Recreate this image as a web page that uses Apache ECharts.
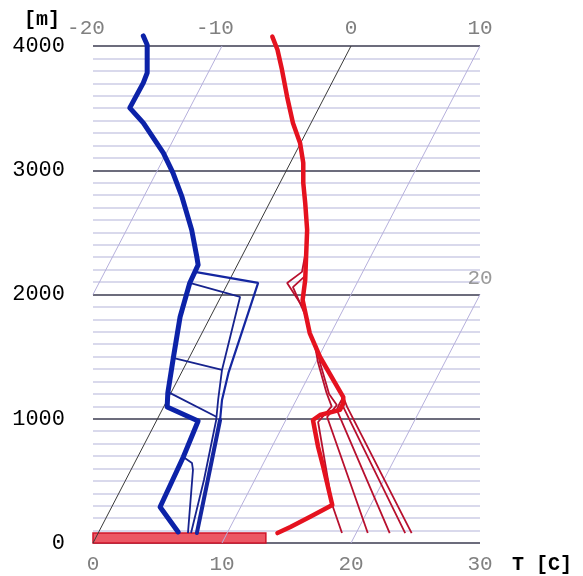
<!DOCTYPE html>
<html><head><meta charset="utf-8">
<script src="https://cdn.jsdelivr.net/npm/echarts@6/dist/echarts.min.js"></script>
<style>html,body{margin:0;padding:0;background:#fff}#c{width:583px;height:576px}</style>
</head><body><div id="c"></div>
<script>
// Axis values: [position on the T axis, height m]
const bottomTicks = [0, 10, 20, 30];
const topTicks = [-20, -10, 0, 10];
const heightTicks = [0, 1000, 2000, 3000, 4000];
const isothermsLight = [-10, 10, 20];
const isothermDark = [0];
const isothermSideLabels = [20];
const surfaceBarX = [0, 13.4];
const surfaceBarH = [0, 80];

const tempMain = [[13.9,4075],[14.3,3970],[14.65,3808],[15.05,3590],[15.5,3381],[16.05,3220],[16.3,3059],[16.3,2898],[16.45,2737],[16.6,2520],[16.5,2254],[16.45,2117],[16.25,1956],[16.8,1690],[17.6,1497],[19.4,1175],[19.4,1127],[19.15,1071],[17.6,1030],[17.05,990],[17.45,773],[17.85,612],[18.55,306],[16.8,209],[15.3,129],[14.3,80]];
const tempThin1 = [[19.3,80],[18.55,306],[17.45,974],[18.5,1100],[18.1,1210],[17.45,1450],[17.2,1590]];
const tempThin2 = [[21.3,80],[18.15,1014],[18.9,1110],[18.3,1200],[17.6,1450],[17.3,1590]];
const tempThin3 = [[23.0,80],[18.9,1071],[19.1,1120],[19.4,1175]];
const tempThin4 = [[24.2,80],[19.4,1095],[19.5,1140]];
const tempThin5 = [[24.7,80],[19.7,1095],[19.4,1175]];
const tempThin6 = [[16.25,1900],[15.05,2093],[16.2,2182],[16.45,2320]];
const tempThin7 = [[16.6,1800],[15.5,2060],[16.45,2150]];

const dewMain = [[3.9,4081],[4.2,4009],[4.2,3784],[3.9,3703],[2.85,3502],[3.9,3381],[5.45,3140],[6.2,2979],[6.9,2785],[7.65,2520],[8.05,2302],[8.15,2238],[7.5,2093],[6.75,1819],[6.2,1473],[5.8,1208],[5.75,1095],[8.15,982],[7.0,692],[5.2,290],[6.6,89]];
const dewThin1 = [[7.9,2182],[12.8,2093],[10.5,1369],[10.0,1151],[9.85,990],[8.9,507],[8.05,80]];
const dewThin2 = [[7.5,2093],[11.4,1980],[10.0,1393],[9.7,1151],[9.55,990],[8.6,507],[7.6,80]];
const dewThin3 = [[7.36,80],[7.75,588],[7.67,644],[7.0,692]];
const dewLink1 = [[6.2,1489],[10.0,1393]];
const dewLink2 = [[5.95,1208],[9.6,1014]];

const FONT = 'Liberation Mono';
const X0 = bottomTicks[0], X1 = bottomTicks[bottomTicks.length-1];
const H0 = heightTicks[0], H1 = heightTicks[heightTicks.length-1];
const shift = bottomTicks[0] - topTicks[0]; // isotherm offset at top height
function isoLine(T) {
  const perM = shift / H1;
  const hs = Math.max(H0, (X0 - T) / perM);
  const he = Math.min(H1, (X1 - T) / perM);
  return [[T + hs*perM, hs], [T + he*perM, he]];
}

const series = [];
isothermsLight.forEach(T => series.push({type:'line', data: isoLine(T), symbol:'none', silent:true,
  lineStyle:{color:'#b6b0dc', width:1}, z:1}));
isothermDark.forEach(T => series.push({type:'line', data: isoLine(T), symbol:'none', silent:true,
  lineStyle:{color:'#3a3a3a', width:1}, z:2}));
series.push({type:'scatter', silent:true, symbolSize:1, itemStyle:{color:'transparent'},
  data: isothermSideLabels.map(T => { const l = isoLine(T); return {value:l[1], T:T}; }),
  label:{show:true, position:'top', distance:5, formatter: p => String(p.data.T), color:'#808080', fontFamily:FONT, fontSize:21}, z:3});
series.push({type:'line', data:[], silent:true,
  markArea:{silent:true, itemStyle:{color:'#ec5764', borderColor:'#d0142a', borderWidth:1.5, opacity:1},
    data:[[{coord:[surfaceBarX[0], surfaceBarH[0]]},{coord:[surfaceBarX[1], surfaceBarH[1]]}]]}, z:4});

const thinRed = [tempThin1,tempThin2,tempThin3,tempThin4,tempThin5,tempThin6,tempThin7];
thinRed.forEach(d => series.push({type:'line', data:d, symbol:'none', silent:true, clip:false,
  lineStyle:{color:'#b8102e', width:1.8}, z:5}));
series.push({type:'line', data:tempMain, symbol:'none', silent:true, clip:false,
  lineStyle:{color:'#e5121f', width:4.5, join:'round', cap:'round'}, z:6});

[dewLink1, dewLink2, dewThin3, dewThin2].forEach(d => series.push({type:'line', data:d, symbol:'none', silent:true, clip:false,
  lineStyle:{color:'#17238e', width:1.8}, z:5}));
series.push({type:'line', data:dewThin1, symbol:'none', silent:true, clip:false,
  lineStyle:{color:'#1426a0', width:2.2}, z:5});
series.push({type:'line', data:dewThin1.filter(p => p[1] <= 1000), symbol:'none', silent:true, clip:false,
  lineStyle:{color:'#1426a0', width:4, cap:'round'}, z:5});
series.push({type:'line', data:dewMain, symbol:'none', silent:true, clip:false,
  lineStyle:{color:'#0c22a8', width:5, join:'round', cap:'round'}, z:6});

const chart = echarts.init(document.getElementById('c'), null, {renderer:'canvas'});
chart.setOption({
  animation:false,
  backgroundColor:'#ffffff',
  grid:{left:93, right:103, top:46, bottom:33, containLabel:false},
  xAxis:[
    {type:'value', min:X0, max:X1, interval:10, position:'bottom',
     axisLine:{show:false}, axisTick:{show:false}, splitLine:{show:false},
     axisLabel:{color:'#808080', fontFamily:FONT, fontSize:21, margin:11}},
    {type:'value', min:topTicks[0], max:topTicks[topTicks.length-1], interval:10, position:'top',
     axisLine:{show:false}, axisTick:{show:false}, splitLine:{show:false},
     axisLabel:{margin:7, formatter: v => v < 0 ? '{n|' + v + '}' : '{p|' + v + '}',
       rich:{n:{color:'#808080', fontFamily:FONT, fontSize:21, padding:[0,14,0,0]},
             p:{color:'#808080', fontFamily:FONT, fontSize:21}}}}
  ],
  yAxis:[
    {type:'value', min:H0, max:H1, interval:100, position:'left',
     axisLine:{show:false}, axisTick:{show:false}, axisLabel:{show:false},
     splitLine:{show:true, lineStyle:{color:'#cdcde6', width:1.5}}},
    {type:'value', min:H0, max:H1, interval:1000, position:'left',
     axisLine:{show:false}, axisTick:{show:false},
     axisLabel:{color:'#000', fontFamily:FONT, fontSize:22, margin:28, formatter: v => String(v)},
     splitLine:{show:true, lineStyle:{color:'#6c6c7c', width:2}}}
  ],
  graphic:[
    {type:'text', left:24, top:10, style:{text:'[m]', font:'bold 20px "Liberation Mono"', fill:'#000'}},
    {type:'text', left:512, top:555, style:{text:'T [C]', font:'bold 20px "Liberation Mono"', fill:'#000'}}
  ],
  series: series
});
</script></body></html>
